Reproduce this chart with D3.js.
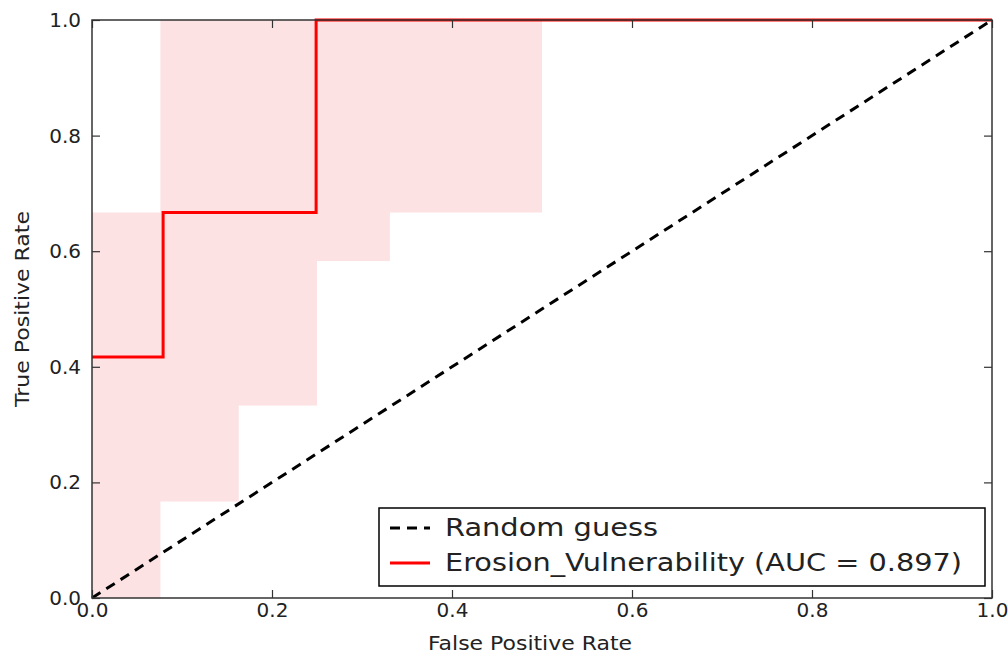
<!DOCTYPE html>
<html>
<head>
<meta charset="utf-8">
<script src="https://cdn.jsdelivr.net/npm/d3@7"></script>
<style>
  body { margin: 0; background: #fff; }
  text { font-family: "DejaVu Sans", sans-serif; fill: #222; }
</style>
</head>
<body>
<svg width="1008" height="656"></svg>
<script>
var svg = d3.select("svg"),
  width = +svg.attr("width"),
  height = +svg.attr("height");

// ROC curve (step)
var rocFpr = [0, 0.079, 0.249, 1.0];
var rocTpr = [0.417, 0.667, 1.0, 1.0];

// confidence band
var bandFpr   = [0, 0.076, 0.163, 0.25, 0.331, 0.5, 1.0];
var bandLower = [0, 0.167, 0.333, 0.583, 0.667, 1.0, 1.0];
var bandUpper = [0.667, 1.0, 1.0, 1.0, 1.0, 1.0, 1.0];

var ticks = [0, 0.2, 0.4, 0.6, 0.8, 1.0];
var legendLabels = ["Random guess", "Erosion_Vulnerability (AUC = 0.897)"];

var margin = {left: 92, right: 16, top: 20, bottom: 58};
var w = width - margin.left - margin.right,
  h = height - margin.top - margin.bottom;

var x = d3.scaleLinear().domain([0, 1]).range([0, w]);
var y = d3.scaleLinear().domain([0, 1]).range([h, 0]);

var g = svg.append("g")
  .attr("transform", "translate(" + margin.left + "," + margin.top + ")");

var band = bandFpr.map(function(d, i) { return {x: d, lo: bandLower[i], hi: bandUpper[i]}; });
var area = d3.area()
  .curve(d3.curveStepAfter)
  .x(function(d) { return x(d.x); })
  .y0(function(d) { return y(d.lo); })
  .y1(function(d) { return y(d.hi); });

g.append("path")
  .datum(band)
  .attr("d", area)
  .attr("fill", "rgb(253,226,228)");

// random guess
g.append("line")
  .attr("x1", x(0)).attr("y1", y(0))
  .attr("x2", x(1)).attr("y2", y(1))
  .attr("stroke", "#000")
  .attr("stroke-width", 3)
  .attr("stroke-dasharray", "10,7");

var roc = rocFpr.map(function(d, i) { return [d, rocTpr[i]]; });
var line = d3.line()
  .curve(d3.curveStepAfter)
  .x(function(d) { return x(d[0]); })
  .y(function(d) { return y(d[1]); });

g.append("path")
  .datum(roc)
  .attr("d", line)
  .attr("fill", "none")
  .attr("stroke", "#ff0000")
  .attr("stroke-width", 3);

// axes, ticks inward on all sides
var tickLen = 8;
g.append("g")
  .attr("transform", "translate(0," + h + ")")
  .call(d3.axisBottom(x).tickValues(ticks).tickFormat(d3.format(".1f")).tickSizeInner(-tickLen).tickSizeOuter(0).tickPadding(5));
g.append("g")
  .call(d3.axisLeft(y).tickValues(ticks).tickFormat(d3.format(".1f")).tickSizeInner(-tickLen).tickSizeOuter(0).tickPadding(11));
g.append("g")
  .call(d3.axisTop(x).tickValues(ticks).tickFormat("").tickSizeInner(-tickLen).tickSizeOuter(0));
g.append("g")
  .attr("transform", "translate(" + w + ",0)")
  .call(d3.axisRight(y).tickValues(ticks).tickFormat("").tickSizeInner(-tickLen).tickSizeOuter(0));

g.selectAll(".domain").remove();
g.selectAll(".tick line").attr("stroke", "#333").attr("stroke-width", 1.2);
g.selectAll(".tick text").style("font-size", "20px").style("fill", "#222");

g.append("rect")
  .attr("width", w).attr("height", h)
  .attr("fill", "none")
  .attr("stroke", "#333")
  .attr("stroke-width", 1.5);

// axis labels
svg.append("text")
  .attr("x", 530)
  .attr("y", 650)
  .attr("text-anchor", "middle")
  .attr("textLength", 204)
  .attr("lengthAdjust", "spacingAndGlyphs")
  .style("font-size", "19px")
  .text("False Positive Rate");

svg.append("text")
  .attr("transform", "translate(29," + (margin.top + h / 2) + ") rotate(-90)")
  .attr("text-anchor", "middle")
  .attr("textLength", 196)
  .attr("lengthAdjust", "spacingAndGlyphs")
  .style("font-size", "20px")
  .text("True Positive Rate");

// legend
var lg = g.append("g").attr("transform", "translate(" + (379 - margin.left) + "," + (508 - margin.top) + ")");
lg.append("rect")
  .attr("width", 606).attr("height", 78)
  .attr("fill", "#fff")
  .attr("stroke", "#000")
  .attr("stroke-width", 1.5);
var styles = [{c: "#000", dash: "10,7", len: 213}, {c: "#ff0000", dash: null, len: 517}];
legendLabels.forEach(function(t, i) {
  var yy = 20 + i * 35;
  lg.append("line")
    .attr("x1", 11).attr("x2", 51)
    .attr("y1", yy).attr("y2", yy)
    .attr("stroke", styles[i].c)
    .attr("stroke-width", 3)
    .attr("stroke-dasharray", styles[i].dash);
  lg.append("text")
    .attr("x", 66).attr("y", yy)
    .attr("dy", "0.35em")
    .attr("textLength", styles[i].len)
    .attr("lengthAdjust", "spacingAndGlyphs")
    .style("font-size", "24px")
    .text(t);
});
</script>
</body>
</html>
